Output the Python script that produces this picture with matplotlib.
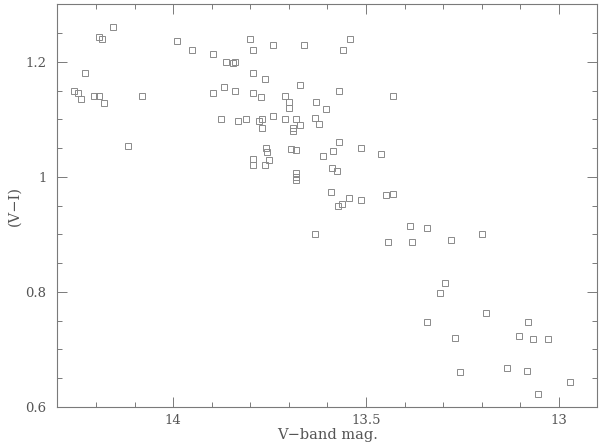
import matplotlib
matplotlib.use("Agg")
import matplotlib.pyplot as plt
from matplotlib.ticker import MultipleLocator

vmag = [14.156, 14.192, 14.184, 13.991, 13.951, 13.896, 13.801, 13.792, 13.741, 13.862,
        13.845, 13.841, 14.228, 13.792, 13.761, 14.256, 14.248, 14.239, 14.206, 14.193,
        14.180, 14.081, 13.896, 13.869, 13.841, 13.792, 13.773, 13.711, 13.701, 13.701,
        13.672, 13.877, 13.831, 13.811, 13.778, 13.770, 13.770, 13.741, 13.710, 13.681,
        13.672, 13.690, 13.690, 13.633, 13.622, 14.117, 13.759, 13.758, 13.695, 13.682,
        13.792, 13.792, 13.751, 13.761, 13.682, 13.682, 13.682,
        13.631, 13.603,
        13.662, 13.541, 13.561, 13.570, 13.431,
        13.570, 13.512, 13.585, 13.611, 13.462, 13.589, 13.576, 13.592, 13.545, 13.512,
        13.447, 13.431, 13.563, 13.574,
        13.633, 13.387, 13.343, 13.443, 13.382, 13.281, 13.200, 13.296, 13.309, 13.189,
        13.342, 13.270, 13.081, 13.104, 13.068, 13.028, 13.257, 13.135, 13.083, 13.055,
        12.970]

vi = [1.261, 1.243, 1.239, 1.236, 1.220, 1.213, 1.240, 1.220, 1.229, 1.2005,
      1.198, 1.2005, 1.180, 1.180, 1.170, 1.150, 1.146, 1.135, 1.141, 1.140,
      1.128, 1.141, 1.146, 1.157, 1.150, 1.146, 1.139, 1.140, 1.130, 1.120,
      1.160, 1.1005, 1.097, 1.1005, 1.098, 1.1005, 1.085, 1.105, 1.1005, 1.1005,
      1.090, 1.085, 1.080, 1.102, 1.092, 1.054, 1.050, 1.043, 1.049, 1.046,
      1.031, 1.020, 1.029, 1.020, 1.006, 1.000, 0.994,
      1.130, 1.118,
      1.230, 1.239, 1.220, 1.150, 1.140,
      1.060, 1.050, 1.045, 1.036, 1.040, 1.016, 1.010, 0.973, 0.964, 0.960,
      0.968, 0.970, 0.952, 0.950,
      0.901, 0.915, 0.911, 0.886, 0.887, 0.890, 0.901, 0.815, 0.799, 0.764,
      0.747, 0.720, 0.748, 0.724, 0.718, 0.719, 0.660, 0.667, 0.662, 0.623,
      0.643]

xticks = [14, 13.5, 13]
xticklabels = ["14", "13.5", "13"]
yticks = [0.6, 0.8, 1.0, 1.2]
yticklabels = ["0.6", "0.8", "1", "1.2"]

axis_col = "#7a7a7a"
text_col = "#555555"
mark_col = "#8a8a8a"
font = "DejaVu Serif"

fig = plt.figure(figsize=(6.0, 4.43), dpi=100)
ax = fig.add_axes([0.0958, 0.0813, 0.9, 0.909])

ax.plot(vmag, vi, linestyle="none", marker="s", markersize=4.3,
        markerfacecolor="none", markeredgecolor=mark_col, markeredgewidth=0.7)

ax.set_xlim(14.3, 12.9)
ax.set_ylim(0.6, 1.3)
ax.set_xticks(xticks)
ax.set_xticklabels(xticklabels)
ax.set_yticks(yticks)
ax.set_yticklabels(yticklabels)
ax.xaxis.set_minor_locator(MultipleLocator(0.1))
ax.yaxis.set_minor_locator(MultipleLocator(0.05))

ax.tick_params(which="both", direction="in", top=True, right=True,
               color=axis_col, width=0.7, labelcolor=text_col, labelsize=9.5)
ax.tick_params(which="major", length=7)
ax.tick_params(which="minor", length=3.5)
ax.tick_params(axis="y", which="major", pad=8)
ax.tick_params(axis="x", which="major", pad=5)
for s in ax.spines.values():
    s.set_color(axis_col)
    s.set_linewidth(0.8)

for lab in ax.get_xticklabels() + ax.get_yticklabels():
    lab.set_family(font)

ax.set_xlabel("V\u2212band mag.", family=font, color=text_col,
              fontsize=10.5, labelpad=1)
ax.set_ylabel("(V\u2212I)", family=font, color=text_col,
              fontsize=10.5, labelpad=3)

fig.savefig("out.png", dpi=100)
